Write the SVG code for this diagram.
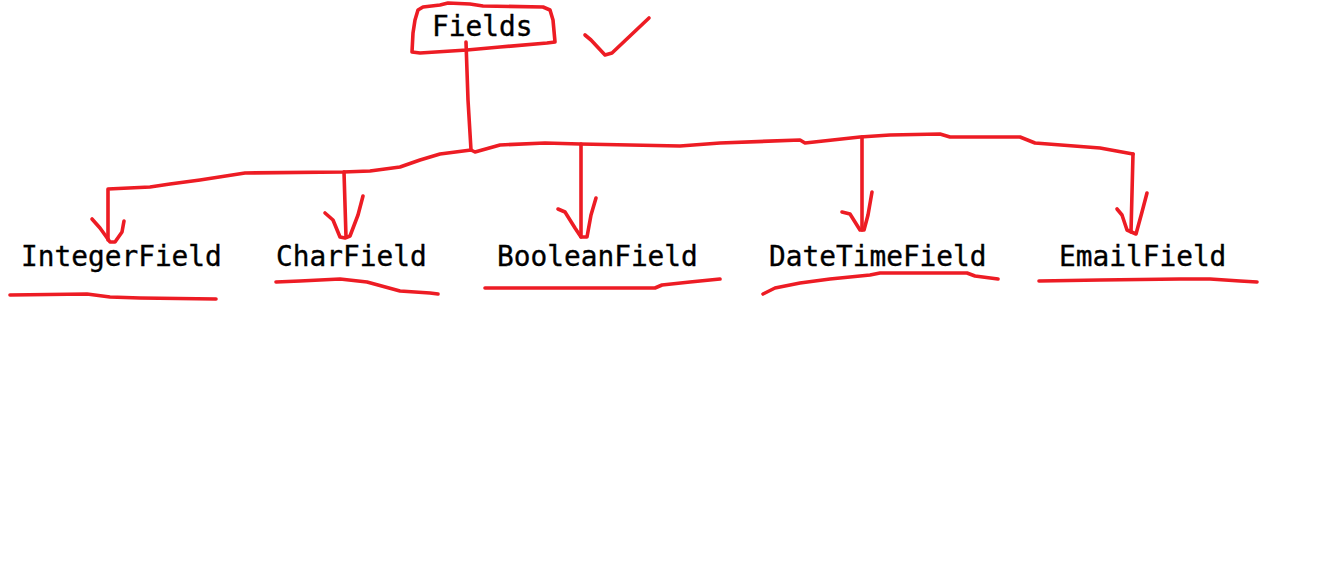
<svg xmlns="http://www.w3.org/2000/svg" width="1342" height="569" viewBox="0 0 1342 569">
<style>
.ink{fill:none;stroke:#ED1C24;stroke-width:3.6;stroke-linecap:round;stroke-linejoin:round}
.lbl{font-family:"DejaVu Sans Mono","Liberation Mono",monospace;font-size:27.8px;fill:#000;stroke:#000;stroke-width:0.35}
</style>
<rect width="1342" height="569" fill="#fff"/>
<g id="node-fields">
<path class="ink" d="M418,10 L423,7 L440,5 L448,3 L470,4 L483,6 L543,7 L550,10 L553,20 L555,42 L547,43 L500,47 L467,50 L420,53 L412,52 L413,33 L415,20 Z"/>
<text class="lbl" x="432" y="36">Fields</text>
</g>
<g id="check">
<path class="ink" d="M585,35 L591,40 L605,55 L612,53 L649,18"/>
</g>
<g id="node-integerfield">
<text class="lbl" x="21" y="266">IntegerField</text>
<path class="ink" d="M10,295 L87,294 L110,297 L140,298 L216,299"/>
</g>
<g id="node-charfield">
<text class="lbl" x="276" y="266">CharField</text>
<path class="ink" d="M276,282 L300,281 L340,279 L367,282 L400,291 L430,293 L438,294"/>
</g>
<g id="node-booleanfield">
<text class="lbl" x="497" y="266">BooleanField</text>
<path class="ink" d="M485,288 L655,288 L662,285 L690,282 L720,279"/>
</g>
<g id="node-datetimefield">
<text class="lbl" x="769" y="266">DateTimeField</text>
<path class="ink" d="M763,294 L775,288 L800,283 L830,279 L870,275 L880,273 L967,273 L975,276 L998,279"/>
</g>
<g id="node-emailfield">
<text class="lbl" x="1059" y="266">EmailField</text>
<path class="ink" d="M1039,281 L1100,280 L1180,279 L1210,279 L1240,281 L1257,282"/>
</g>
<g id="connectors">
<path class="ink" d="M466,42 L468,100 L471,150"/>
<path class="ink" d="M108,240 L108,189 L150,187 L170,184 L200,180 L245,173 L343,172 L370,171 L400,167 L420,160 L440,154 L471,150 L475,152 L500,145 L545,143 L580,144 L680,146 L720,143 L800,140 L805,143 L860,137 L890,135 L940,134 L950,137 L1020,137 L1035,143 L1100,148 L1133,154"/>
<path class="ink" d="M92,219 L100,228 L110,242 L115,242 L122,232 L124,221"/>
<path class="ink" d="M344,172 L346,237"/>
<path class="ink" d="M325,213 L333,220 L340,237 L345,238 L350,236 L358,215 L363,196"/>
<path class="ink" d="M581,144 L581,237"/>
<path class="ink" d="M558,209 L565,212 L575,228 L581,237 L587,237 L591,215 L596,198"/>
<path class="ink" d="M862,137 L862,230"/>
<path class="ink" d="M842,212 L850,214 L860,230 L864,230 L868,215 L872,192"/>
<path class="ink" d="M1133,154 L1131,232"/>
<path class="ink" d="M1117,209 L1122,215 L1127,230 L1136,234 L1142,212 L1147,193"/>
</g>
</svg>
